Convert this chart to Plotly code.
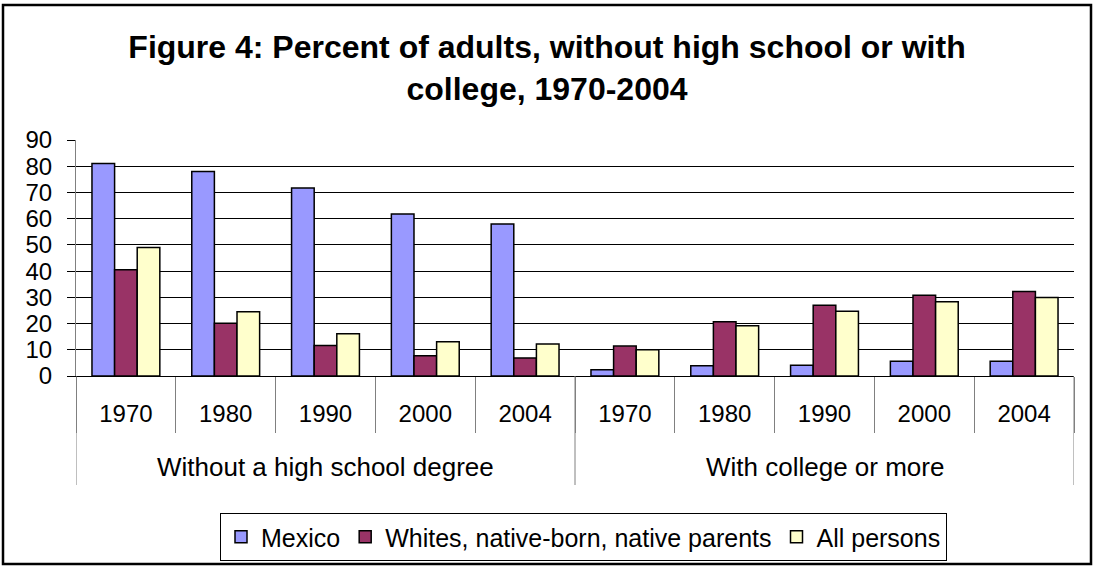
import plotly.graph_objects as go

# Education attainment by year (percent of adults)
groups = ["Without a high school degree", "With college or more"]
years = ["1970", "1980", "1990", "2000", "2004"]
series_names = ["Mexico", "Whites, native-born, native parents", "All persons"]

mexico = [81, 78, 71.7, 61.8, 58, 2.4, 3.9, 4.1, 5.6, 5.6]
whites = [40.5, 20.1, 11.6, 7.7, 6.9, 11.4, 20.7, 27.0, 30.8, 32.2]
all_persons = [49, 24.5, 16.1, 13.1, 12.2, 10.0, 19.2, 24.7, 28.3, 29.9]

colors = ["#9999FF", "#993366", "#FFFFCC"]
FONT = "Liberation Sans, Arial, sans-serif"

tick_text = years * len(groups)
positions = list(range(len(tick_text)))
n_years = len(years)

# plot-area geometry in pixels
W, H = 1094, 567
L, R, T, B = 76, 20, 140, 191
PW, PH = W - L - R, H - T - B
plot_bottom = T + PH


def px_x(x):
    return (x - L) / PW


def px_y(y):
    return (plot_bottom - y) / PH


fig = go.Figure()
for name, vals, col in zip(series_names, [mexico, whites, all_persons], colors):
    fig.add_trace(go.Bar(
        x=positions, y=vals, name=name,
        marker=dict(color=col, line=dict(color="black", width=1.5)),
    ))

# group labels below the year labels
annotations = []
for gi, g in enumerate(groups):
    centre = gi * n_years + (n_years - 1) / 2
    annotations.append(dict(
        x=centre, xref="x", y=0, yref="paper", yshift=-91,
        text=g, showarrow=False, yanchor="middle",
        font=dict(family=FONT, size=26, color="black"),
    ))

# long dividers between groups
shapes = []
for gi in range(len(groups) + 1):
    xb = gi * n_years - 0.5
    shapes.append(dict(
        type="line", xref="x", yref="paper", ysizemode="pixel", yanchor=0,
        x0=xb, x1=xb, y0=0, y1=-109,
        line=dict(color="#808080", width=1),
    ))

# chart frame
shapes.append(dict(
    type="rect", xref="paper", yref="paper",
    x0=px_x(3), x1=px_x(1091), y0=px_y(564), y1=px_y(5),
    line=dict(color="black", width=2.5), fillcolor="rgba(0,0,0,0)", layer="below",
))

fig.update_layout(
    width=W, height=H,
    margin=dict(l=L, r=R, t=T, b=B, autoexpand=False),
    paper_bgcolor="white", plot_bgcolor="white",
    barmode="group", bargap=0.32, bargroupgap=0,
    title=dict(
        text="Figure 4: Percent of adults, without high school or with<br>college, 1970-2004",
        x=0.5, xref="container", xanchor="center",
        y=1 - 58 / H, yref="container", yanchor="top",
        font=dict(family=FONT, size=32, color="black", weight="bold"),
    ),
    font=dict(family=FONT, color="black"),
    xaxis=dict(
        range=[-0.5, len(positions) - 0.5],
        tickvals=positions, ticktext=tick_text,
        ticks="", showgrid=False, zeroline=False,
        showline=True, linecolor="black", linewidth=1,
        tickfont=dict(family=FONT, size=24, color="black"),
        ticklabelstandoff=16,
        minor=dict(
            tickvals=[p - 0.5 for p in positions] + [positions[-1] + 0.5],
            ticks="outside", ticklen=56, tickcolor="#808080", tickwidth=1,
            showgrid=False,
        ),
    ),
    yaxis=dict(
        range=[0, 90], dtick=10, tick0=0,
        showgrid=True, gridcolor="black", gridwidth=1,
        zeroline=False,
        showline=True, linecolor="#808080", linewidth=1,
        ticks="outside", ticklen=8, tickcolor="black", tickwidth=1,
        tickfont=dict(family=FONT, size=24, color="black"),
        ticklabelstandoff=10,
    ),
    legend=dict(
        orientation="h", x=px_x(220), xanchor="left",
        y=px_y(513), yanchor="top",
        bordercolor="black", borderwidth=1, bgcolor="white",
        font=dict(family=FONT, size=25, color="black"),
        traceorder="normal",
    ),
    annotations=annotations,
    shapes=shapes,
    showlegend=True,
)

fig.write_html("out.html")
